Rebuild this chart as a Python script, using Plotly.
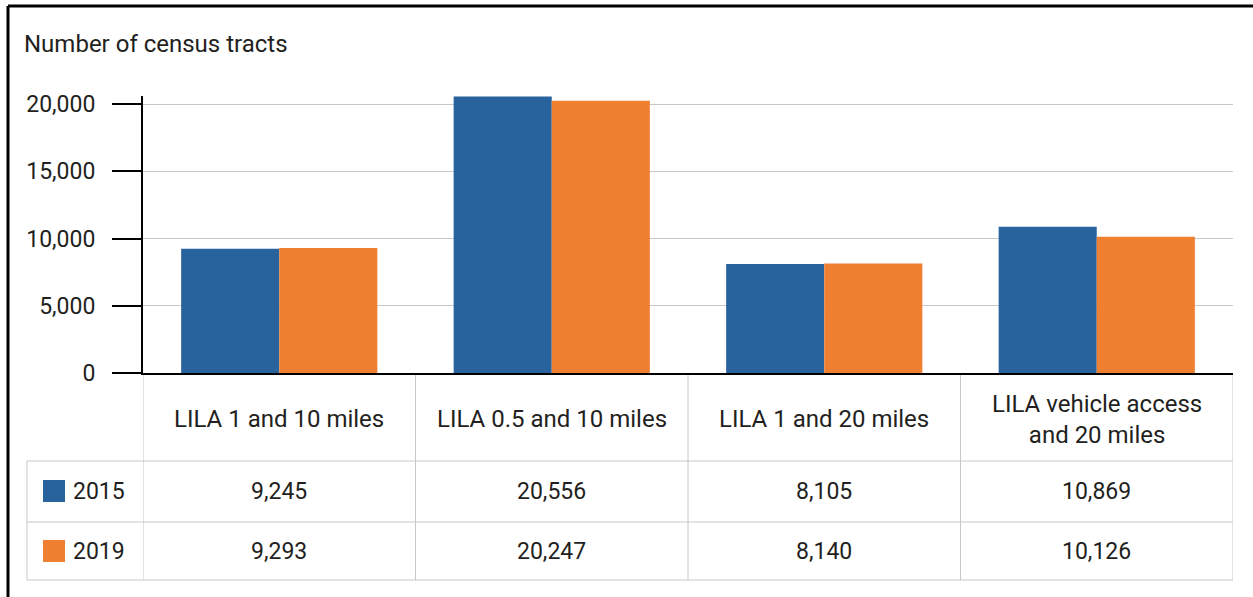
import plotly.graph_objects as go

categories = ["LILA 1 and 10 miles", "LILA 0.5 and 10 miles", "LILA 1 and 20 miles",
              "LILA vehicle access<br>and 20 miles"]
years = ["2015", "2019"]
values_2015 = [9245, 20556, 8105, 10869]
values_2019 = [9293, 20247, 8140, 10126]
colors = ["#28639D", "#EF7F31"]
y_ticks = [0, 5000, 10000, 15000, 20000]
y_title = "Number of census tracts"

W, H = 1253, 597
L, R, T, B = 143, 1233, 96, 373
FONT = "Roboto"
TXT = "#231F20"
GRID = "#C8C8C8"
FS_TXT = 24
FS_NUM = 23


def px(x):
    return (x - L) / (R - L)


def py(y):
    return (B - y) / (B - T)


fig = go.Figure()
for name, vals, col in zip(years, [values_2015, values_2019], colors):
    fig.add_bar(x=list(range(len(categories))), y=vals, name=name, marker_color=col,
                marker_line_width=0, showlegend=False)

shapes = []
annotations = []

# outer frame (top and left)
shapes.append(dict(type="line", xref="paper", yref="paper", x0=px(8), x1=px(W + 5), y0=py(6), y1=py(6),
                   line=dict(color="black", width=3)))
shapes.append(dict(type="line", xref="paper", yref="paper", x0=px(8), x1=px(8), y0=py(6), y1=py(H + 5),
                   line=dict(color="black", width=3)))

# table grid
row_lines = [461, 522, 580]
for yl in row_lines:
    shapes.append(dict(type="line", xref="paper", yref="paper", x0=px(27), x1=1, y0=py(yl), y1=py(yl),
                       line=dict(color=GRID, width=1)))
shapes.append(dict(type="line", xref="paper", yref="paper", x0=px(27), x1=px(27), y0=py(461), y1=py(580),
                   line=dict(color=GRID, width=1)))
for i in range(len(categories) + 1):
    shapes.append(dict(type="line", xref="x", yref="paper", x0=i - 0.5, x1=i - 0.5, y0=0, y1=py(580),
                       line=dict(color=GRID, width=1), layer="below"))

# table header
for i, c in enumerate(categories):
    annotations.append(dict(x=i, xref="x", y=py(419), yref="paper", yanchor="middle", xanchor="center",
                            text=c, showarrow=False,
                            font=dict(family=FONT, size=FS_TXT, color=TXT), align="center"))

# table rows
row_centers = [491, 551]
for r, (name, vals, col) in enumerate(zip(years, [values_2015, values_2019], colors)):
    yc = row_centers[r]
    shapes.append(dict(type="rect", xref="paper", yref="paper", x0=px(43), x1=px(65),
                       y0=py(yc - 11), y1=py(yc + 11), fillcolor=col, line=dict(width=0)))
    annotations.append(dict(x=px(71), xref="paper", y=py(yc), yref="paper", yanchor="middle",
                            text=name, showarrow=False,
                            xanchor="left", font=dict(family=FONT, size=FS_NUM, color=TXT)))
    for i, v in enumerate(vals):
        annotations.append(dict(x=i, xref="x", y=py(yc), yref="paper", yanchor="middle", xanchor="center",
                                text=f"{v:,}", showarrow=False,
                                font=dict(family=FONT, size=FS_NUM, color=TXT)))

# y title
annotations.append(dict(x=px(22), xref="paper", y=py(44), yref="paper", yanchor="middle",
                        text=y_title, showarrow=False,
                        xanchor="left", font=dict(family=FONT, size=FS_TXT, color=TXT)))

fig.update_layout(
    width=W, height=H,
    margin=dict(l=L, r=W - R, t=T, b=H - B),
    paper_bgcolor="white", plot_bgcolor="white",
    barmode="group", bargap=0.28, bargroupgap=0,
    shapes=shapes, annotations=annotations,
    xaxis=dict(range=[-0.5, len(categories) - 0.5], showticklabels=False, showgrid=False,
               showline=True, linecolor="black", linewidth=2, ticks="", zeroline=False,
               fixedrange=True),
    yaxis=dict(range=[0, 20600], tickvals=y_ticks, tickformat=",", showgrid=True, gridcolor=GRID,
               gridwidth=1, showline=True, linecolor="black", linewidth=2, ticks="outside",
               ticklen=29, tickwidth=2, tickcolor="black", zeroline=False, ticklabelstandoff=12,
               tickfont=dict(family=FONT, size=FS_NUM, color=TXT)),
)

fig.write_html("out.html")
